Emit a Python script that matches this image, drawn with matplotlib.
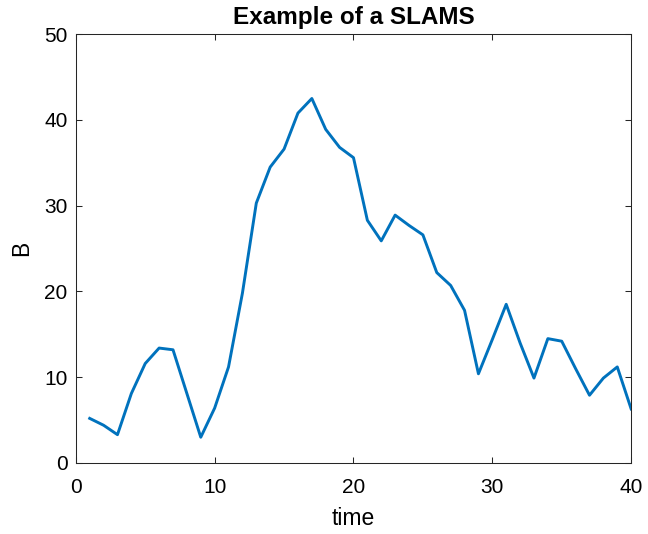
import numpy as np
import matplotlib
matplotlib.use("Agg")
import matplotlib.pyplot as plt

plt.rcParams['font.family'] = ['Liberation Sans', 'DejaVu Sans']

# values (one sample per time step)
time = np.arange(1, 41)
B = [5.2, 4.4, 3.3, 8.1, 11.6, 13.4, 13.2, 8.1, 3.0, 6.4,
     11.2, 19.8, 30.3, 34.5, 36.6, 40.8, 42.5, 38.9, 36.8, 35.6,
     28.3, 25.9, 28.9, 27.7, 26.6, 22.2, 20.7, 17.8, 10.4, 14.4,
     18.5, 14.0, 9.9, 14.5, 14.2, 11.0, 7.9, 9.9, 11.2, 6.3]

edge = "#262626"

fig = plt.figure(figsize=(6.48, 5.34), dpi=100)
ax = fig.add_axes([0.117, 0.133, 0.857, 0.803])
ax.plot(time, B, color="#0072BD", lw=2.1)

ax.set_xlim(0, 40)
ax.set_ylim(0, 50)
ax.set_xticks([0, 10, 20, 30, 40])
ax.set_yticks([0, 10, 20, 30, 40, 50])
ax.tick_params(direction="in", length=4, width=0.75, color=edge,
               labelsize=15, labelcolor="black", top=True, right=True)
ax.tick_params(axis="x", pad=11)
ax.tick_params(axis="y", pad=6)
for s in ax.spines.values():
    s.set_color(edge)
    s.set_linewidth(0.75)

ax.set_xlabel("time", fontsize=16.5, labelpad=7)
ax.set_ylabel("B", fontsize=16.5, labelpad=8)
ax.set_title("Example of a SLAMS", fontsize=17.5, fontweight="bold", pad=7)

fig.savefig("out.png", dpi=100)
